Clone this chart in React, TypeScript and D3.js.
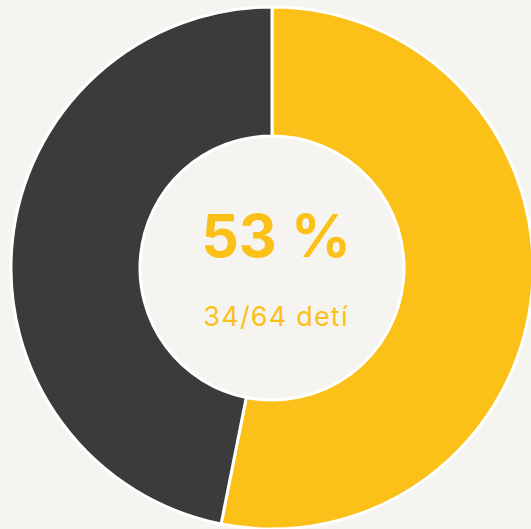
import React from 'react';
import * as d3 from 'd3';

// data
const labels = ['deti s', 'deti bez'];
const values = [34, 30];
const colors = ['#fcc118', '#3b3b3b'];
const total = 64;

const W = 531;
const H = 529;
const cx = 272;
const cy = 268;
const outerR = 261;
const innerR = 132;

export default function App() {
  const pie = d3.pie<number>().sort(null).value((d) => d);
  const arcs = pie(values);
  const arc = d3.arc<d3.PieArcDatum<number>>().innerRadius(innerR).outerRadius(outerR);

  const pct = Math.round((values[0] / total) * 100);

  return (
    <div style={{ position: 'absolute', left: 0, top: 0, width: W, height: H, background: '#f5f4f0' }}>
      <svg width={W} height={H} style={{ display: 'block' }}>
        <rect width={W} height={H} fill="#f5f4f0" />
        <g transform={`translate(${cx},${cy})`}>
          {arcs.map((a, i) => (
            <path key={labels[i]} d={arc(a) || ''} fill={colors[i]} stroke="#ffffff" strokeWidth={3} />
          ))}
          <text
            x={4}
            y={-11}
            textAnchor="middle"
            fill={colors[0]}
            fontFamily="Inter, 'Noto Sans', sans-serif"
            fontWeight={700}
            fontSize={59}
          >
            {pct} %
          </text>
          <text
            x={4}
            y={58}
            textAnchor="middle"
            fill={colors[0]}
            fontFamily="Inter, 'Noto Sans', sans-serif"
            fontWeight={400}
            fontSize={27}
            letterSpacing={1.2}
          >
            {values[0]}/{total} detí
          </text>
        </g>
      </svg>
    </div>
  );
}
